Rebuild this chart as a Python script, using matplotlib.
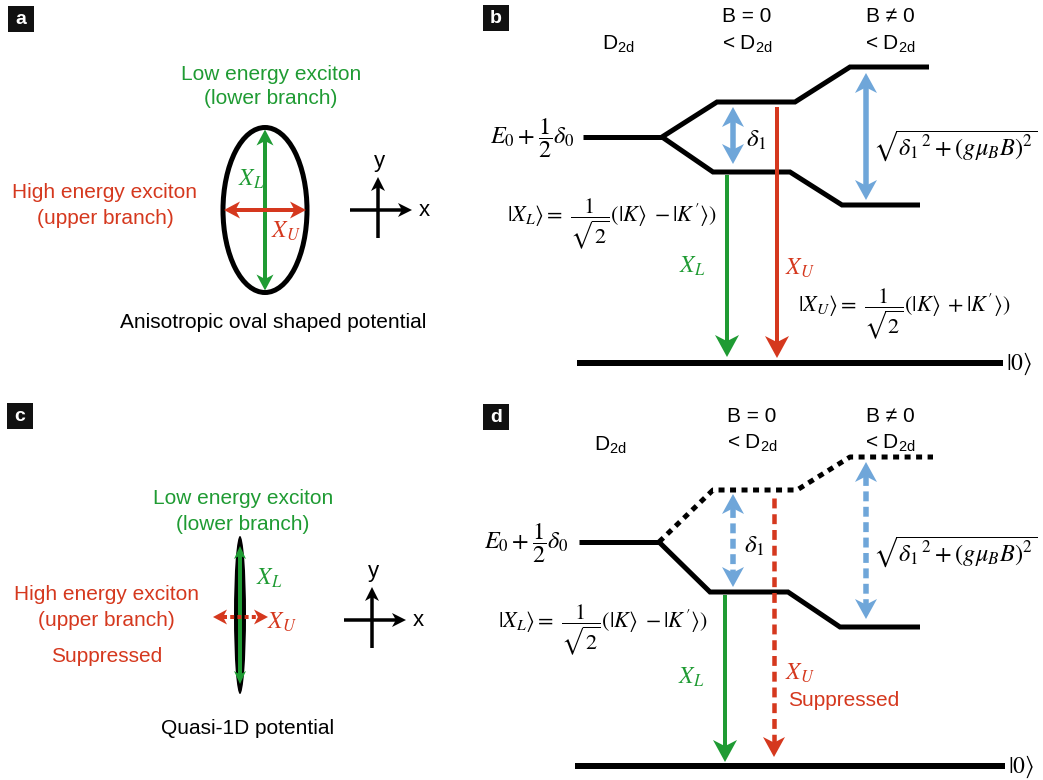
import matplotlib
matplotlib.use("Agg")  # no display
import matplotlib.pyplot as plt
from matplotlib.patches import Ellipse, Polygon, Rectangle
import numpy as np

plt.rcParams['font.family'] = ['Liberation Sans', 'DejaVu Sans']

GREEN = '#1f9b33'
RED = '#d5381e'
BLUE = '#6fa6d9'
PX = 0.72  # points per pixel at dpi 100
FS = 15    # label text size
MS = 16    # equation size

# ---- schematic geometry (pixel units) ----
panel_boxes = {'a': (8, 6), 'b': (483, 5), 'c': (7, 403), 'd': (483, 404)}

# panel b levels
b_e0_x = [583, 662]
b_e0_y = [137, 137]
b_upper_x = [662, 717, 795, 850, 929]
b_upper_y = [137, 102, 102, 67, 67]
b_lower_x = [662, 713, 790, 842, 920]
b_lower_y = [137, 172, 172, 205, 205]
b_ground_x = [577, 1003]
b_ground_y = [363, 363]

# panel d levels
d_e0_x = [579, 659]
d_e0_y = [542, 542]
d_upper_x = [659, 713, 797, 850, 933]
d_upper_y = [542, 490, 490, 457, 457]
d_lower_x = [659, 710, 788, 840, 920]
d_lower_y = [542, 592, 592, 627, 627]
d_ground_x = [575, 1005]
d_ground_y = [766, 766]

# transitions: (x, y_start, y_end)
b_xl = (727, 175, 357)
b_xu = (777, 107, 358)
b_delta1 = (733, 107, 164)
b_zeeman = (866, 73, 200)
d_xl = (725, 595, 762)
d_xu = (774, 498, 757)
d_delta1 = (733, 494, 587)
d_zeeman = (866, 462, 619)

# panels a / c: potential shapes
a_oval = (265, 210, 84, 165)   # cx, cy, w, h
c_oval = (240, 615, 12, 158)
a_cross = (378, 210)
c_cross = (372, 620)


def head(ax, tip, back, length, width, color, z=6):
    tx, ty = tip
    d = np.array([tx - back[0], ty - back[1]], dtype=float)
    u = d / np.hypot(*d)
    p = np.array([-u[1], u[0]])
    t = np.array([tx, ty], dtype=float)
    pts = [t,
           t - length * u + width / 2 * p,
           t - 0.72 * length * u,
           t - length * u - width / 2 * p]
    ax.add_patch(Polygon(pts, closed=True, fc=color, ec='none', zorder=z))


def arrow(ax, start, end, color, lw, length, width, both=False, ls='-', z=5):
    s = np.array(start, dtype=float)
    e = np.array(end, dtype=float)
    u = (e - s) / np.hypot(*(e - s))
    e2 = e - 0.7 * length * u
    s2 = s + 0.7 * length * u if both else s
    ax.plot([s2[0], e2[0]], [s2[1], e2[1]], color=color, lw=lw * PX, ls=ls,
            solid_capstyle='butt', dash_capstyle='butt', zorder=z)
    head(ax, end, start, length, width, color, z + 1)
    if both:
        head(ax, start, end, length, width, color, z + 1)


def label_box(ax, letter, x, y):
    ax.add_patch(Rectangle((x, y), 26, 26, fc='#111111', ec='none'))
    ax.text(x + 13, y + 13.5, letter, color='white', fontsize=14,
            fontweight='bold', ha='center', va='center')


def math(ax, x, y, s, size=MS, color='black', ha='center'):
    ax.text(x, y, s, fontsize=size, color=color, ha=ha, va='center',
            math_fontfamily='stix')


def cross(ax, cx, cy):
    arrow(ax, (cx - 28, cy), (cx + 34, cy), 'black', 3.5, 14, 14)
    arrow(ax, (cx, cy + 28), (cx, cy - 33), 'black', 3.5, 14, 14)
    ax.text(cx + 1, cy - 48, 'y', fontsize=FS + 1, ha='center', va='center')
    ax.text(cx + 46, cy, 'x', fontsize=FS + 1, ha='center', va='center')


def levels(ax, e0x, e0y, upx, upy, lox, loy, gx, gy, upper_dotted):
    kw = dict(color='black', solid_joinstyle='miter', solid_capstyle='butt')
    ax.plot(e0x, e0y, lw=5 * PX, **kw)
    ax.plot(lox, loy, lw=5 * PX, **kw)
    if upper_dotted:
        ax.plot(upx, upy, lw=5 * PX, ls=(0, (1.2, 1.1)), color='black',
                dash_capstyle='butt')
    else:
        ax.plot(upx, upy, lw=5 * PX, **kw)
    ax.plot(gx, gy, lw=6 * PX, **kw)


def diagram_text(ax, y0, shift):
    # symmetry headers
    ax.text(618 - 8 * shift, y0 + 44 + 2 * shift, r'D$_\mathregular{2d}$', fontsize=FS,
            ha='center', va='center')
    ax.text(747 + 5 * shift, y0 + 17, 'B = 0', fontsize=FS, ha='center', va='center')
    ax.text(747 + 5 * shift, y0 + 44, r'< D$_\mathregular{2d}$', fontsize=FS,
            ha='center', va='center')
    ax.text(890, y0 + 17, 'B \u2260 0', fontsize=FS, ha='center', va='center')
    ax.text(890, y0 + 44, r'< D$_\mathregular{2d}$', fontsize=FS,
            ha='center', va='center')


fig = plt.figure(figsize=(10.43, 7.8), dpi=100)
ax = fig.add_axes([0, 0, 1, 1])
ax.set_xlim(0, 1043)
ax.set_ylim(780, 0)
ax.axis('off')

for k, (x, y) in panel_boxes.items():
    label_box(ax, k, x, y)

# ---------------- panel a ----------------
cx, cy, w, h = a_oval
ax.add_patch(Ellipse((cx, cy), w, h, fc='none', ec='black', lw=5 * PX, zorder=3))
arrow(ax, (cx, cy + h / 2 - 2), (cx, cy - h / 2 + 2), GREEN, 4, 16, 17, both=True)
arrow(ax, (cx - w / 2 + 1, cy), (cx + w / 2 - 1, cy), RED, 4, 16, 17, both=True, z=7)
math(ax, 251, 179, r'$X_L$', 17, GREEN)
math(ax, 286, 231, r'$X_U$', 17, RED)
ax.text(271, 74, 'Low energy exciton', color=GREEN, fontsize=FS, ha='center', va='center')
ax.text(271, 99, '(lower branch)', color=GREEN, fontsize=FS, ha='center', va='center')
ax.text(105, 193, 'High energy exciton', color=RED, fontsize=FS, ha='center', va='center')
ax.text(105, 218, '(upper branch)', color=RED, fontsize=FS, ha='center', va='center')
cross(ax, *a_cross)
ax.text(273, 322, 'Anisotropic oval shaped potential', fontsize=FS, ha='center', va='center')

# ---------------- panel c ----------------
cx, cy, w, h = c_oval
ax.add_patch(Ellipse((cx, cy), w, h, fc='black', ec='none', zorder=3))
arrow(ax, (cx, cy + h / 2 - 10), (cx, cy - h / 2 + 10), GREEN, 4, 13, 12, both=True)
arrow(ax, (213, 617), (268, 617), RED, 4, 14, 15, both=True, ls=(0, (1, 0.8)), z=7)
math(ax, 269, 578, r'$X_L$', 17, GREEN)
math(ax, 282, 622, r'$X_U$', 17, RED)
ax.text(243, 499, 'Low energy exciton', color=GREEN, fontsize=FS, ha='center', va='center')
ax.text(243, 524, '(lower branch)', color=GREEN, fontsize=FS, ha='center', va='center')
ax.text(106, 595, 'High energy exciton', color=RED, fontsize=FS, ha='center', va='center')
ax.text(106, 621, '(upper branch)', color=RED, fontsize=FS, ha='center', va='center')
ax.text(107, 657, 'Suppressed', color=RED, fontsize=FS, ha='center', va='center')
cross(ax, *c_cross)
ax.text(248, 728, 'Quasi-1D potential', fontsize=FS, ha='center', va='center')

# ---------------- panel b ----------------
levels(ax, b_e0_x, b_e0_y, b_upper_x, b_upper_y, b_lower_x, b_lower_y,
       b_ground_x, b_ground_y, upper_dotted=False)
x, y1, y2 = b_xl
arrow(ax, (x, y1), (x, y2), GREEN, 4, 22, 24)
x, y1, y2 = b_xu
arrow(ax, (x, y1), (x, y2), RED, 4, 22, 24)
x, y1, y2 = b_delta1
arrow(ax, (x, y1), (x, y2), BLUE, 5.5, 20, 22, both=True)
x, y1, y2 = b_zeeman
arrow(ax, (x, y1), (x, y2), BLUE, 5.5, 20, 22, both=True)
diagram_text(ax, 0, 0)
math(ax, 574, 138, r'$E_0+\dfrac{1}{2}\delta_0$', 17.5, ha='right')
math(ax, 756, 140, r'$\delta_1$', 18)
math(ax, 873, 146, r'$\sqrt{{\delta_1}^{\,2}+(g\mu_B B)^2}$', 17.5, ha='left')
math(ax, 507, 224, r"$|X_L\rangle=\ \dfrac{1}{\sqrt{2}}(|K\rangle\;-|K'\rangle)$", ha='left')
math(ax, 798, 314, r"$|X_U\rangle=\ \dfrac{1}{\sqrt{2}}(|K\rangle\;+|K'\rangle)$", ha='left')
math(ax, 692, 266, r'$X_L$', 17, GREEN)
math(ax, 800, 268, r'$X_U$', 17, RED)
math(ax, 1006, 364, r'$|0\rangle$', 17, ha='left')

# ---------------- panel d ----------------
levels(ax, d_e0_x, d_e0_y, d_upper_x, d_upper_y, d_lower_x, d_lower_y,
       d_ground_x, d_ground_y, upper_dotted=True)
x, y1, y2 = d_xl
arrow(ax, (x, y1), (x, y2), GREEN, 4, 22, 24)
x, y1, y2 = d_xu
arrow(ax, (x, y1), (x, y2), RED, 4.5, 20, 22, ls=(0, (2.2, 1.3)))
x, y1, y2 = d_delta1
arrow(ax, (x, y1), (x, y2), BLUE, 5.5, 20, 22, both=True, ls=(0, (1.8, 1.0)))
x, y1, y2 = d_zeeman
arrow(ax, (x, y1), (x, y2), BLUE, 5.5, 20, 22, both=True, ls=(0, (1.8, 1.0)))
diagram_text(ax, 399, 1)
math(ax, 568, 543, r'$E_0+\dfrac{1}{2}\delta_0$', 17.5, ha='right')
math(ax, 754, 546, r'$\delta_1$', 18)
math(ax, 873, 552, r'$\sqrt{{\delta_1}^{\,2}+(g\mu_B B)^2}$', 17.5, ha='left')
math(ax, 498, 630, r"$|X_L\rangle=\ \dfrac{1}{\sqrt{2}}(|K\rangle\;-|K'\rangle)$", ha='left')
math(ax, 691, 677, r'$X_L$', 17, GREEN)
math(ax, 800, 673, r'$X_U$', 17, RED)
ax.text(788, 701, 'Suppressed', color=RED, fontsize=FS, ha='left', va='center')
math(ax, 1008, 767, r'$|0\rangle$', 17, ha='left')

fig.savefig('out.png', dpi=100)
